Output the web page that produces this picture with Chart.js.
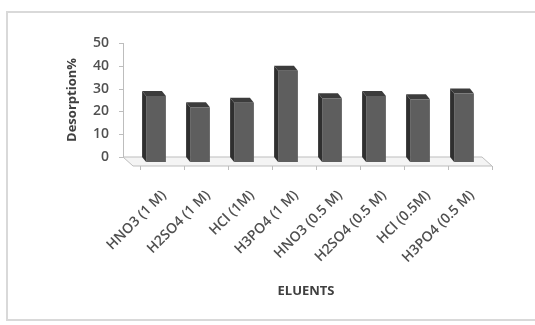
<!DOCTYPE html>
<html>
<head>
<meta charset="utf-8">
<script src="https://cdn.jsdelivr.net/npm/chart.js@4.4.0/dist/chart.umd.min.js"></script>
<style>
  html, body { margin: 0; padding: 0; background: #ffffff; }
  #wrap { position: relative; width: 535px; height: 325px; }
</style>
</head>
<body>
<div id="wrap"><canvas id="c" width="535" height="325"></canvas></div>
<script>
// Eluents tested and the desorption obtained with each
const eluents = ['HNO3 (1 M)', 'H2SO4 (1 M)', 'HCl (1M)', 'H3PO4 (1 M)',
                 'HNO3 (0.5 M)', 'H2SO4 (0.5 M)', 'HCl (0.5M)', 'H3PO4 (0.5 M)'];
const desorption = [29, 24, 26, 40, 28, 29, 27.5, 30];
const yTicks = [0, 10, 20, 30, 40, 50];

// depth of the pseudo-3D columns (front face offset from back face)
const DX = 4, DY = 5;
const AXIS_GAP = 7;      // back wall sits a little left of the first category
const FLOOR_D = 9;       // depth of the floor plate
const PLOT_TOP = 43;     // pixel row of the 50 % line
const PLOT_BOTTOM = 157; // pixel row of the 0 % line

function poly(ctx, pts, fill, stroke) {
  ctx.beginPath();
  ctx.moveTo(pts[0][0], pts[0][1]);
  for (let i = 1; i < pts.length; i++) ctx.lineTo(pts[i][0], pts[i][1]);
  ctx.closePath();
  if (fill) { ctx.fillStyle = fill; ctx.fill(); }
  if (stroke) { ctx.strokeStyle = stroke; ctx.lineWidth = 1; ctx.stroke(); }
}

const depthPlugin = {
  id: 'depth',
  beforeDraw(chart) {
    const ctx = chart.ctx;
    ctx.save();
    ctx.strokeStyle = '#d9d9d9';
    ctx.lineWidth = 2;
    ctx.strokeRect(7, 12, 540, 308);
    ctx.restore();
  },
  beforeDatasetsDraw(chart) {
    const { ctx, chartArea: a, scales } = chart;
    const y = scales.y;
    const wallX = a.left - AXIS_GAP;
    ctx.save();
    // floor plate
    poly(ctx, [[wallX, a.bottom], [a.right, a.bottom],
               [a.right + 10, a.bottom + FLOOR_D], [wallX + 10, a.bottom + FLOOR_D]],
         '#f4f4f4', '#bdbdbd');
    // tick marks along the front edge of the floor
    ctx.strokeStyle = '#bdbdbd';
    ctx.lineWidth = 1;
    const step = (a.right - a.left) / eluents.length;
    for (let i = 0; i <= eluents.length; i++) {
      const px = Math.round(a.left + i * step + 10) + 0.5;
      ctx.beginPath();
      ctx.moveTo(px, a.bottom + FLOOR_D);
      ctx.lineTo(px, a.bottom + FLOOR_D + 4);
      ctx.stroke();
    }
    // value axis line with tick marks
    ctx.beginPath();
    ctx.moveTo(wallX + 0.5, y.getPixelForValue(yTicks[yTicks.length - 1]));
    ctx.lineTo(wallX + 0.5, a.bottom);
    ctx.stroke();
    yTicks.forEach(v => {
      const py = Math.round(y.getPixelForValue(v)) + 0.5;
      ctx.beginPath();
      ctx.moveTo(wallX - 4, py);
      ctx.lineTo(wallX, py);
      ctx.stroke();
    });
    // side and top faces of each column
    chart.getDatasetMeta(0).data.forEach(bar => {
      const p = bar.getProps(['x', 'y', 'base', 'width'], true);
      const l = p.x - p.width / 2, r = p.x + p.width / 2;
      poly(ctx, [[l, p.y], [l + DX, p.y + DY], [l + DX, p.base + DY], [l, p.base]], '#2f2f2f');
      poly(ctx, [[l, p.y], [r, p.y], [r + DX, p.y + DY], [l + DX, p.y + DY]], '#3c3c3c');
    });
    ctx.restore();
    // front faces are drawn shifted toward the viewer
    ctx.save();
    ctx.translate(DX, DY);
  },
  afterDatasetsDraw(chart) {
    chart.ctx.restore();
  }
};

new Chart(document.getElementById('c'), {
  type: 'bar',
  data: {
    labels: eluents,
    datasets: [{
      data: desorption,
      backgroundColor: '#5e5e5e',
      borderWidth: 0,
      barPercentage: 0.45,
      categoryPercentage: 1,
      clip: false
    }]
  },
  options: {
    responsive: false,
    animation: false,
    devicePixelRatio: 1,
    layout: { padding: { left: 55, right: 53, top: PLOT_TOP, bottom: 0 } },
    plugins: { legend: { display: false }, tooltip: { enabled: false } },
    scales: {
      x: {
        grid: { display: false, drawTicks: false },
        border: { display: false },
        ticks: {
          minRotation: 45, maxRotation: 45, autoSkip: false,
          padding: 30, labelOffset: 12,
          color: '#505050',
          font: { family: 'Open Sans', size: 14, weight: '600' }
        },
        title: {
          display: true, text: 'ELUENTS', color: '#404040',
          font: { family: 'Open Sans', size: 13, weight: 'bold' },
          padding: { top: 0, bottom: 26 }
        },
        afterFit(s) { s.height = 325 - PLOT_BOTTOM; }
      },
      y: {
        min: 0, max: 50,
        grid: { display: false, drawTicks: false },
        border: { display: false },
        afterBuildTicks(s) { s.ticks = yTicks.map(v => ({ value: v })); },
        ticks: {
          padding: 21, color: '#505050',
          font: { family: 'Open Sans', size: 14, weight: '600' }
        },
        title: {
          display: true, text: 'Desorption%', color: '#404040',
          font: { family: 'Open Sans', size: 13, weight: 'bold' },
          padding: { top: 9, bottom: 0 }
        },
        afterFit(s) { s.width = 75; }
      }
    }
  },
  plugins: [depthPlugin]
});
</script>
</body>
</html>
